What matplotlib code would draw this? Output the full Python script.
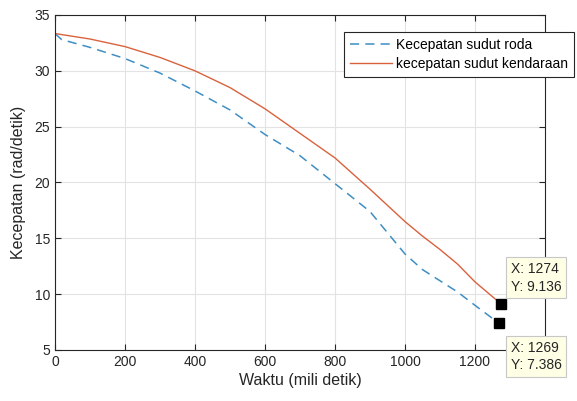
import matplotlib
matplotlib.use("Agg")
import matplotlib.pyplot as plt

# data
t_roda = [0, 19, 100, 200, 300, 400, 500, 600, 700, 800, 900, 1000,
          1050, 1100, 1150, 1200, 1269]
v_roda = [33.34, 32.8, 32.1, 31.1, 29.8, 28.2, 26.5, 24.3, 22.4, 19.9,
          17.4, 13.6, 12.2, 11.2, 10.2, 9.0, 7.386]
t_kend = [0, 100, 200, 300, 400, 500, 600, 700, 800, 900, 1000,
          1050, 1100, 1150, 1200, 1274]
v_kend = [33.34, 32.85, 32.17, 31.2, 30.0, 28.5, 26.6, 24.4, 22.2, 19.4,
          16.5, 15.2, 14.0, 12.7, 11.1, 9.136]
tips = [(1274, 9.136), (1269, 7.386)]

BLUE = "#3f8ec4"
RED = "#d9623d"

plt.rcParams.update({"font.family": ["Liberation Sans", "DejaVu Sans"],
                     "font.size": 9})

fig = plt.figure(figsize=(5.77, 4.01), dpi=100)
ax = fig.add_axes([0.0953, 0.1272, 0.8492, 0.8354])

ax.plot(t_roda, v_roda, ls=(0, (6, 4)), color=BLUE, lw=1.1,
        label="Kecepatan sudut roda")
ax.plot(t_kend, v_kend, color=RED, lw=1.0, label="kecepatan sudut kendaraan")

ax.set_xlim(0, 1400)
ax.set_ylim(5, 35)
ax.set_xticks(range(0, 1201, 200))
ax.set_yticks(range(5, 36, 5))
ax.grid(True, color="#e3e3e3", lw=0.8)
ax.tick_params(direction="in", length=4, colors="#262626", labelsize=10,
               top=True, right=True, labeltop=False, labelright=False)
for s in ax.spines.values():
    s.set_color("#262626")
    s.set_linewidth(0.8)
ax.set_xlabel("Waktu (mili detik)", fontsize=11.5, color="#262626", labelpad=3)
ax.set_ylabel("Kecepatan (rad/detik)", fontsize=11.5, color="#262626",
              labelpad=6)

leg = ax.legend(loc="upper left", bbox_to_anchor=(0.596, 0.92),
                bbox_transform=fig.transFigure, fancybox=False,
                edgecolor="#262626", framealpha=1, fontsize=10,
                borderaxespad=0, handlelength=3.0, handletextpad=0.3,
                borderpad=0.45, labelspacing=0.35)
leg.get_frame().set_linewidth(0.8)

# datatips
for (tx, ty), (fx, fy) in zip(tips, [(0.885, 0.268), (0.885, 0.072)]):
    ax.plot(tx, ty, "s", color="black", ms=7, clip_on=False, zorder=5)
    fig.text(fx, fy, f"X: {tx}\nY: {ty}", fontsize=10, color="#262626",
             linespacing=1.3, va="bottom", ha="left",
             bbox=dict(boxstyle="square,pad=0.35", fc="#ffffe6",
                       ec="#c8c8c8", lw=0.8))

fig.savefig("out.png", dpi=100)
